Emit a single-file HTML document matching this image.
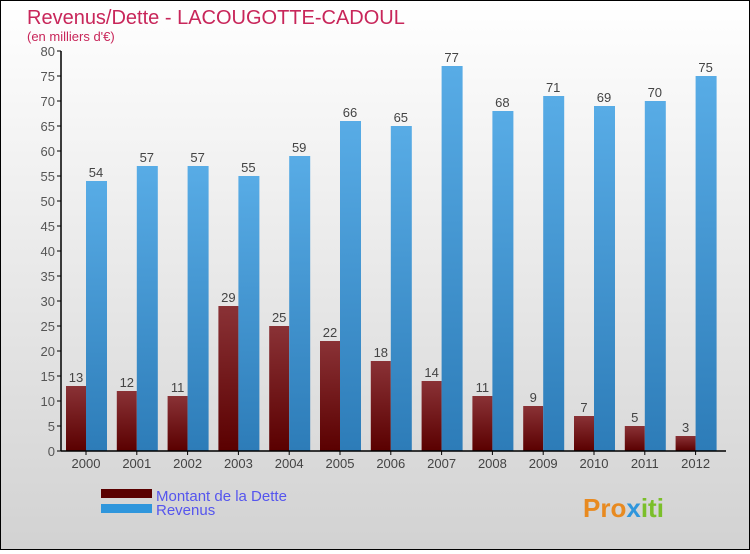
<!DOCTYPE html>
<html><head><meta charset="utf-8"><style>
body{margin:0}
#c{width:748px;height:548px;border:1px solid #000;background:linear-gradient(#fff,#d2d2d2);position:relative;font-family:"Liberation Sans",sans-serif}
</style></head><body>
<div id="c">
<svg width="748" height="548" xmlns="http://www.w3.org/2000/svg" id="s">
<defs>
<linearGradient id="gd" x1="0" y1="0" x2="0" y2="1"><stop offset="0" stop-color="#8a3236"/><stop offset="1" stop-color="#5a0000"/></linearGradient>
<linearGradient id="gr" x1="0" y1="0" x2="0" y2="1"><stop offset="0" stop-color="#58ace6"/><stop offset="1" stop-color="#2d7cb8"/></linearGradient>
</defs>
<text x="26" y="23" font-size="20" fill="#c8265a">Revenus/Dette - LACOUGOTTE-CADOUL</text>
<text x="26" y="40" font-size="13" fill="#c8265a">(en milliers d'€)</text>
<g id="plot"></g>
<rect x="100" y="488" width="51" height="9" fill="#5a0000"/>
<rect x="100" y="503" width="51" height="9" fill="#2f96dc"/>
<text x="155" y="500" font-size="15" fill="#5555ee">Montant de la Dette</text>
<text x="155" y="514" font-size="15" fill="#5555ee">Revenus</text>
<text x="582" y="516" font-size="26" font-weight="bold" fill="#e88a20">Pro<tspan fill="#2f96dc">x</tspan><tspan fill="#7bbf2a">iti</tspan></text>
</svg></div>
<script>
const years=["2000","2001","2002","2003","2004","2005","2006","2007","2008","2009","2010","2011","2012"];
const dette=[13,12,11,29,25,22,18,14,11,9,7,5,3];
const revenus=[54,57,57,55,59,66,65,77,68,71,69,70,75];
const yTicks=[0,5,10,15,20,25,30,35,40,45,50,55,60,65,70,75,80];
const NS="http://www.w3.org/2000/svg";
const g=document.getElementById("plot");
const y=v=>450-5*v;
const x0=i=>64+i*50.8;
function el(t,a){const e=document.createElementNS(NS,t);for(const k in a)e.setAttribute(k,a[k]);g.appendChild(e);return e;}
yTicks.forEach(t=>{
 const l=el("line",{x1:56,x2:60,y1:y(t),y2:y(t),stroke:"#000"});
 
 
 const tx=el("text",{x:54,y:y(t)+5,"font-size":13,fill:"#555","text-anchor":"end"});tx.textContent=t;
 
 
});
years.forEach((yr,i)=>{
 const bx=x0(i);
 const b1=el("rect",{x:bx+1,y:y(dette[i]),width:20,height:5*dette[i],fill:"url(#gd)"});
 
 
 const b2=el("rect",{x:bx+21,y:y(revenus[i]),width:21,height:5*revenus[i],fill:"url(#gr)"});
 
 
 const l1=el("text",{x:bx+11,y:y(dette[i])-4,"font-size":13,fill:"#444","text-anchor":"middle"});l1.textContent=dette[i];
 
 
 const l2=el("text",{x:bx+31,y:y(revenus[i])-4,"font-size":13,fill:"#444","text-anchor":"middle"});l2.textContent=revenus[i];
 
 
 const tk=el("line",{x1:bx+21,x2:bx+21,y1:450,y2:454,stroke:"#000"});
 
 
 const xl=el("text",{x:bx+21,y:467,"font-size":13,fill:"#444","text-anchor":"middle"});xl.textContent=yr;
 
 
});
const ya=el("line",{x1:60,x2:60,y1:50,y2:450,stroke:"#000","stroke-width":1.5});


const xa=el("line",{x1:60,x2:725,y1:450,y2:450,stroke:"#000","stroke-width":1.5});


</script>
</body></html>
